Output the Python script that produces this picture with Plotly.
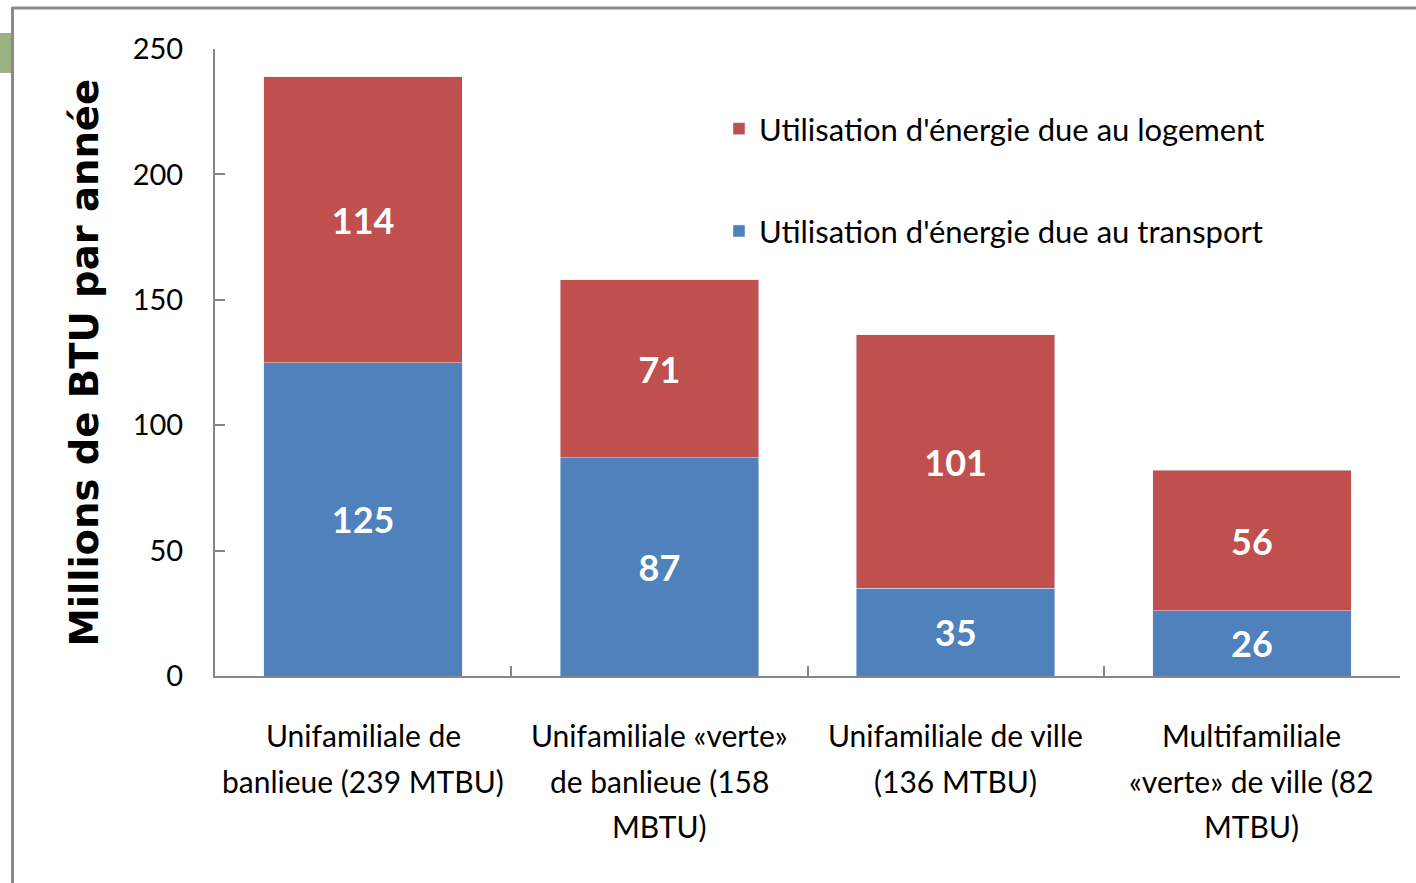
import plotly.graph_objects as go

categories = [
    "Unifamiliale de<br>banlieue (239 MTBU)",
    "Unifamiliale «verte»<br>de banlieue (158<br>MBTU)",
    "Unifamiliale de ville<br>(136 MTBU)",
    "Multifamiliale<br>«verte» de ville (82<br>MTBU)",
]
transport = [125, 87, 35, 26]
logement = [114, 71, 101, 56]
series_names = ["Utilisation d'énergie due au transport", "Utilisation d'énergie due au logement"]
y_ticks = [0, 50, 100, 150, 200, 250]
y_title = "Millions de BTU par année"

FONT = "Lato, 'Open Sans', sans-serif"
TITLE_FONT = "'DejaVu Sans', sans-serif"
BLUE = "#4F81BD"
RED = "#C0504D"
GRAY = "#868686"

W, H = 1416, 883
L, R, T, B = 215, 16, 49, 207
pw, ph = W - L - R, H - T - B

def px_x(p):
    return (p - L) / pw

def px_y(p):
    return (H - B - p) / ph

fig = go.Figure()
fig.add_trace(go.Bar(
    x=categories, y=transport, name=series_names[0], marker_color=BLUE,
    text=transport, texttemplate="%{text}", textposition="inside",
    insidetextanchor="middle", constraintext="none",
    textfont=dict(family=FONT, size=36, color="white", weight="bold"),
    legendgroup="t", legendrank=2,
))
fig.add_trace(go.Bar(
    x=categories, y=logement, name=series_names[1], marker_color=RED,
    text=logement, texttemplate="%{text}", textposition="inside",
    insidetextanchor="middle", constraintext="none",
    textfont=dict(family=FONT, size=36, color="white", weight="bold"),
    legendgroup="l", legendrank=1,
))

# category labels, one annotation per line
for cat in categories:
    for i, line in enumerate(cat.split("<br>")):
        fig.add_annotation(
            x=cat, xref="x", y=0, yref="paper", yshift=-59 - 45.5 * i,
            text=line, showarrow=False, xanchor="center", yanchor="middle",
            font=dict(family=FONT, size=30, color="#000000"),
        )

# y-axis title
fig.add_annotation(
    x=px_x(84), xref="paper", y=0.5, yref="paper", text=y_title, textangle=-90,
    showarrow=False, xanchor="center", yanchor="middle",
    font=dict(family=TITLE_FONT, size=38.5, color="#000000", weight="bold"),
)

# outer frame and green tab
fig.add_shape(type="line", xref="paper", yref="paper",
              x0=px_x(12), x1=px_x(1416), y0=px_y(8), y1=px_y(8),
              line=dict(color="#8a8a8a", width=3))
fig.add_shape(type="line", xref="paper", yref="paper",
              x0=px_x(12.5), x1=px_x(12.5), y0=px_y(7), y1=px_y(883),
              line=dict(color="#8a8a8a", width=3))
fig.add_shape(type="rect", xref="paper", yref="paper",
              x0=px_x(0), x1=px_x(11), y0=px_y(33), y1=px_y(73),
              fillcolor="#9cb282", line=dict(width=0))

fig.update_layout(
    width=W, height=H, autosize=False,
    margin=dict(l=L, r=R, t=T, b=B, pad=0),
    paper_bgcolor="white", plot_bgcolor="white",
    barmode="stack", bargap=0.33,
    font=dict(family=FONT, color="#000000"),
    legend=dict(
        x=px_x(719), y=px_y(102), xanchor="left", yanchor="top",
        traceorder="grouped", tracegroupgap=59,
        font=dict(family=FONT, size=31, color="#000000"),
        bgcolor="rgba(0,0,0,0)", itemwidth=30,
    ),
    xaxis=dict(
        showticklabels=False, showline=True, linecolor=GRAY, linewidth=2,
        ticks="inside", tickson="boundaries", ticklen=10, tickcolor=GRAY, tickwidth=2,
        showgrid=False, zeroline=False,
    ),
    yaxis=dict(
        range=[0, 250], tickvals=y_ticks, showline=True, linecolor=GRAY, linewidth=2,
        ticks="inside", ticklen=10, tickcolor=GRAY, tickwidth=2,
        showgrid=False, zeroline=False, ticklabelstandoff=24,
        tickfont=dict(family=FONT, size=29, color="#000000"),
    ),
)

fig.write_html("out.html", config={"displayModeBar": False},
               post_script="document.body.style.margin='0';")
